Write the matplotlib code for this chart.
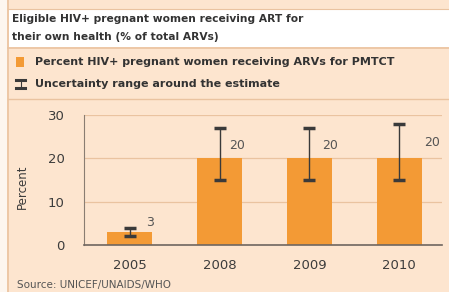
"""
PMTCT coverage bar chart with uncertainty ranges.
"""

import matplotlib
matplotlib.use("Agg")
import matplotlib.pyplot as plt
from matplotlib.patches import Rectangle
from matplotlib.lines import Line2D

# data
years = ["2005", "2008", "2009", "2010"]
percent = [3, 20, 20, 20]
low = [2, 15, 15, 15]
high = [4, 27, 27, 28]
labels = ["3", "20", "20", "20"]

title_lines = ["Eligible HIV+ pregnant women receiving ART for",
               "their own health (% of total ARVs)"]
legend_bar = "Percent HIV+ pregnant women receiving ARVs for PMTCT"
legend_err = "Uncertainty range around the estimate"
source = "Source: UNICEF/UNAIDS/WHO"

PEACH = "#fde5cf"
TAN = "#eac3a0"
ORANGE = "#f39a35"
DARK = "#3a3a3a"

W, H = 449, 292
fig = plt.figure(figsize=(W / 100, H / 100), dpi=100, facecolor=PEACH)


def fx(x):
    return x / W


def fy(y):
    return 1 - y / H


# frame pieces
fig.patches.append(Rectangle((0, 0), fx(7), 1, transform=fig.transFigure,
                             facecolor="#fdf6ef", edgecolor="none", zorder=0))
fig.patches.append(Rectangle((fx(9), fy(47)), fx(W - 9), fy(9) - fy(47),
                             transform=fig.transFigure, facecolor="white",
                             edgecolor="none", zorder=0))
fig.add_artist(Line2D([fx(8), fx(8)], [0, 1], color=TAN, lw=1.2))
fig.add_artist(Line2D([fx(8), 1], [fy(48.5), fy(48.5)], color=TAN, lw=1.2))
fig.add_artist(Line2D([fx(8), 1], [fy(8.5), fy(8.5)], color=TAN, lw=0.8))
fig.add_artist(Line2D([fx(8), 1], [fy(99), fy(99)], color=TAN, lw=1.0))

# title
fig.text(fx(12), fy(19), title_lines[0], fontsize=7.7, fontweight="bold",
         color="#333333", va="center")
fig.text(fx(12), fy(37), title_lines[1], fontsize=7.7, fontweight="bold",
         color="#333333", va="center")

# legend rows
fig.patches.append(Rectangle((fx(16), fy(67)), fx(8), fy(57) - fy(67),
                             transform=fig.transFigure, facecolor=ORANGE,
                             edgecolor="none"))
fig.text(fx(35), fy(62), legend_bar, fontsize=8.0, fontweight="bold",
         color="#333333", va="center")
fig.add_artist(Line2D([fx(16), fx(25)], [fy(80), fy(80)], color=DARK, lw=2.2))
fig.add_artist(Line2D([fx(16), fx(25)], [fy(88), fy(88)], color=DARK, lw=2.2))
fig.add_artist(Line2D([fx(20.5), fx(20.5)], [fy(80), fy(88)], color=DARK, lw=0.8))
fig.text(fx(35), fy(84), legend_err, fontsize=8.0, fontweight="bold",
         color="#333333", va="center")

# plot area
ax = fig.add_axes([fx(84), fy(245), fx(442) - fx(84), fy(115) - fy(245)])
ax.set_facecolor(PEACH)
x = list(range(len(years)))
ax.bar(x, percent, width=0.5, color=ORANGE, zorder=2)
yerr = [[p - l for p, l in zip(percent, low)], [h - p for p, h in zip(percent, high)]]
ax.errorbar(x, percent, yerr=yerr, fmt="none", ecolor=DARK, elinewidth=1.0,
            capsize=4.5, capthick=2.5, zorder=3)

label_dx = [0.22, 0.19, 0.23, 0.37]
label_y = [5.3, 23, 23, 23.6]
for i, txt in enumerate(labels):
    ax.text(x[i] + label_dx[i], label_y[i], txt, fontsize=9, color="#555555",
            ha="center", va="center", zorder=4)

ax.set_xlim(-0.511, 3.478)
ax.set_ylim(0, 30)
ax.set_yticks([0, 10, 20, 30])
ax.set_xticks(x)
ax.set_xticklabels(years)
ax.tick_params(length=0, labelsize=9.5, colors="#3c3c3c")
ax.tick_params(axis="y", pad=14)
ax.tick_params(axis="x", pad=10)
ax.grid(axis="y", color=TAN, lw=0.9, zorder=0)
for side in ["top", "right"]:
    ax.spines[side].set_visible(False)
ax.spines["left"].set_color("#8a7d72")
ax.spines["bottom"].set_color("#6f6660")
ax.spines["bottom"].set_linewidth(1.2)
ax.set_ylabel("Percent", fontsize=8.5, color="#3c3c3c")
ax.yaxis.set_label_coords(-(84 - 29) / (442 - 84), 0.45)

fig.text(fx(17), fy(285), source, fontsize=7.5, color="#555555", va="center")

fig.savefig("out.png", dpi=100, facecolor=PEACH)
